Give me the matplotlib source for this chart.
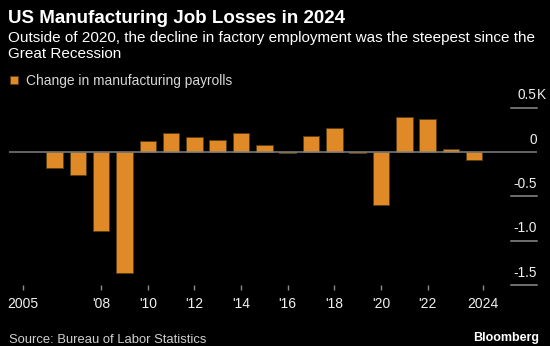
import matplotlib
matplotlib.use("Agg")
import matplotlib.pyplot as plt
import numpy as np

plt.rcParams["font.family"] = ["Liberation Sans", "DejaVu Sans"]

# annual change in manufacturing payrolls, thousands of jobs (in K)
years = np.arange(2006, 2025)
change = [-0.174, -0.264, -0.889, -1.367, 0.127, 0.213, 0.168, 0.131, 0.218, 0.082,
          -0.008, 0.184, 0.270, -0.005, -0.599, 0.391, 0.368, 0.037, -0.084]

xtick_pos = [2004.66, 2008, 2010, 2012, 2014, 2016, 2018, 2020, 2022, 2024.37]
xtick_labels = ["2005", "'08", "'10", "'12", "'14", "'16", "'18", "'20", "'22", "2024"]
ytick_vals = [0.5, 0, -0.5, -1.0, -1.5]
ytick_labels = ["0.5", "0", "-0.5", "-1.0", "-1.5"]

bar_color = "#df8a26"
bg = "#000000"

fig = plt.figure(figsize=(5.5, 3.46), dpi=100, facecolor=bg)
ax = fig.add_axes([0.0169, 0.1763, 0.9589, 0.5378], facecolor=bg)

ax.bar(years, change, width=0.71, color=bar_color, edgecolor="#5c3d10",
       linewidth=0.7, zorder=2, label="Change in manufacturing payrolls")

ax.set_xlim(2004.06, 2026.68)
ax.set_ylim(-1.5, 0.6)

# zero line across the full width, short grid stubs on the right
ytr = ax.get_yaxis_transform()
ax.axhline(0, color="#808080", lw=1.1, zorder=3)
for v in ytick_vals:
    if v != 0:
        ax.plot([0.9507, 1.0], [v, v], color="#8c8c8c", lw=1.1, transform=ytr,
                clip_on=False, zorder=3)

for v, lab in zip(ytick_vals, ytick_labels):
    ax.annotate(lab, xy=(1.0, v), xycoords=ytr, xytext=(0, 6), textcoords="offset points",
                ha="right", va="baseline", color="#f0f0f0", fontsize=9.8)
ax.annotate("K", xy=(1.0, 0.5), xycoords=ytr, xytext=(0, 6), textcoords="offset points",
            ha="left", va="baseline", color="#f0f0f0", fontsize=9.8)

ax.set_yticks([])
ax.set_xticks(xtick_pos)
ax.set_xticklabels(xtick_labels)
ax.tick_params(axis="x", length=3.6, width=1, color="#8c8c8c", labelcolor="#f0f0f0",
               labelsize=10, pad=5)
for s in ax.spines.values():
    s.set_visible(False)

fig.legend(loc="upper left", bbox_to_anchor=(0.008, 0.802), frameon=False,
           handlelength=0.6, handleheight=0.55, handletextpad=0.55, borderaxespad=0,
           fontsize=9.9, labelcolor="#d8d8d8")

fig.text(0.014, 1 - 22.8 / 346, "US Manufacturing Job Losses in 2024", color="white",
         fontsize=13.5, fontweight="bold", va="baseline")
fig.text(0.014, 1 - 42 / 346,
         "Outside of 2020, the decline in factory employment was the steepest since the",
         color="white", fontsize=11, va="baseline")
fig.text(0.014, 1 - 58 / 346, "Great Recession", color="white", fontsize=11, va="baseline")

fig.text(0.016, 1 - 343 / 346, "Source: Bureau of Labor Statistics", color="#d0d0d0",
         fontsize=9.4, va="baseline")
fig.text(0.98, 1 - 341 / 346, "Bloomberg", color="white", fontsize=9, fontweight="bold",
         va="baseline", ha="right")

fig.savefig("out.png", dpi=100, facecolor=bg)
